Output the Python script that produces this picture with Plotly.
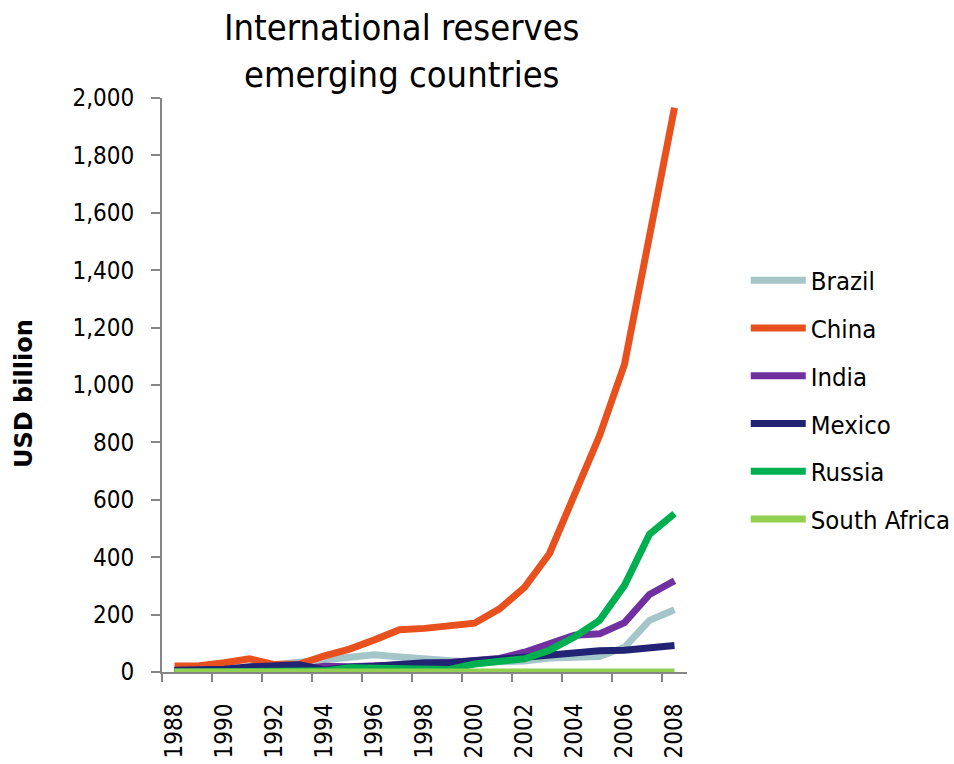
import plotly.graph_objects as go

# International reserves by country, USD billion
years = list(range(1988, 2009))
brazil = [7, 8, 8, 9, 25, 33, 40, 52, 60, 52, 44, 36, 33, 36, 38, 49, 53, 54, 86, 180, 217]
china = [21, 22, 32, 46, 26, 28, 56, 80, 112, 147, 152, 160, 170, 220, 295, 413, 615, 823, 1072, 1530, 1966]
india = [5, 4, 2, 4, 6, 10, 20, 18, 20, 25, 28, 33, 39, 47, 69, 101, 128, 133, 172, 270, 318]
mexico = [6, 7, 10, 18, 19, 25, 7, 17, 20, 29, 32, 32, 36, 45, 51, 59, 64, 74, 76, 87, 92]
russia = [0, 0, 0, 0, 2, 6, 4, 15, 12, 13, 8, 9, 28, 35, 46, 76, 122, 180, 302, 480, 552]
south_africa = [0, 0, 0, 0, 0, 0, 0, 0, 0, 0, 0, 0, 0, 0, 0, 0, 0, 0, 0, 0, 0]

series_names = ["Brazil", "China", "India", "Mexico", "Russia", "South Africa"]
series_values = [brazil, china, india, mexico, russia, south_africa]
series_colors = ["#A5C6C9", "#E8501E", "#7030A0", "#232373", "#00B050", "#92D050"]

year_labels = [str(y) for y in range(1988, 2009, 2)]
year_ticks = list(range(1988, 2009, 2))
boundary_ticks = [y - 0.5 for y in range(1988, 2009, 2)]

FONT = "DejaVu Sans Condensed, DejaVu Sans, sans-serif"
AXIS_GREY = "#868686"

fig = go.Figure()
for i, (name, vals, col) in enumerate(zip(series_names, series_values, series_colors)):
    fig.add_trace(go.Scatter(
        x=years, y=vals, name=name, mode="lines",
        line=dict(color=col, width=7),
        legendgroup=f"g{i}",
        cliponaxis=False,
    ))

# Two-line chart title
fig.add_annotation(
    text="International reserves<br>emerging countries",
    xref="paper", yref="paper", x=0.457, y=1.082,
    xanchor="center", yanchor="middle", showarrow=False,
    font=dict(family=FONT, size=36, color="black"),
)

# Vertical axis title
fig.add_annotation(
    text="<b>USD billion</b>", textangle=-90,
    xref="paper", yref="paper", x=-0.263, y=0.486,
    xanchor="center", yanchor="middle", showarrow=False,
    font=dict(family="DejaVu Sans, sans-serif", size=24, color="black"),
)

fig.update_layout(
    width=954, height=764,
    margin=dict(l=162, r=267, t=98, b=92, autoexpand=False),
    paper_bgcolor="white", plot_bgcolor="white",
    font=dict(family=FONT, size=24, color="black"),
    showlegend=True,
    legend=dict(
        x=1.1119, xanchor="left", y=0.7225, yanchor="top",
        font=dict(family=FONT, size=25.5, color="black"),
        itemwidth=55, tracegroupgap=11.6,
        bgcolor="rgba(0,0,0,0)",
    ),
    xaxis=dict(
        range=[1987.5, 2008.5], automargin=False,
        tickmode="array", tickvals=year_ticks, ticktext=year_labels,
        tickangle=-90, ticks="",
        ticklabelstandoff=20,
        showline=True, linecolor=AXIS_GREY, linewidth=2,
        showgrid=False, zeroline=False,
        minor=dict(tickmode="array", tickvals=boundary_ticks, ticks="outside",
                   ticklen=8, tickwidth=2, tickcolor=AXIS_GREY, showgrid=False),
    ),
    yaxis=dict(
        range=[0, 2000], dtick=200, tickformat=",", automargin=False,
        ticks="outside", ticklen=9, tickwidth=2, tickcolor=AXIS_GREY,
        ticklabelstandoff=12,
        showline=True, linecolor=AXIS_GREY, linewidth=2,
        showgrid=False, zeroline=False,
    ),
)

fig.write_html("out.html")
